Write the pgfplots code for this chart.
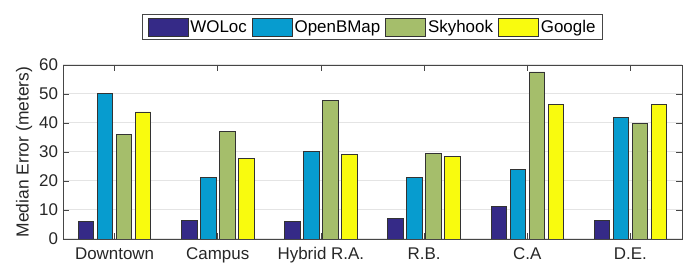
\documentclass[border=0pt]{standalone}
\usepackage{pgfplots}
\pgfplotsset{compat=1.18}
\usepackage{fontspec}
\setmainfont{Liberation Sans}
\usetikzlibrary{calc}
\definecolor{cWOLoc}{RGB}{53,42,135}
\definecolor{cOpen}{RGB}{7,156,207}
\definecolor{cSky}{RGB}{165,190,107}
\definecolor{cGoogle}{RGB}{249,251,14}
\definecolor{axgray}{RGB}{70,70,70}
\definecolor{gridgray}{RGB}{228,228,228}
\begin{document}
\begin{tikzpicture}
\begin{axis}[
  name=ax,
  scale only axis,
  width=619bp, height=174bp,
  xmin=-0.5, xmax=5.5,
  ymin=0, ymax=60,
  ytick={0,10,...,60},
  xtick={0,1,2,3,4,5},
  xticklabels={Downtown,Campus,Hybrid R.A.,R.B.,C.A,D.E.},
  ybar=3.5bp, bar width=15.5bp,
  tick align=inside,
  xtick pos=both, ytick pos=both,
  major tick length=6bp,
  axis line style={axgray, line width=0.8pt},
  every tick/.style={axgray, line width=0.8pt},
  ymajorgrids,
  major grid style={gridgray, line width=1pt},
  /pgf/number format/assume math mode=true,
  tick label style={font=\fontsize{17}{19}\selectfont, text=black!85},
  xticklabel style={yshift=-5bp},
  yticklabel style={xshift=-1.5bp},
  ylabel={Median Error (meters)},
  ylabel style={font=\fontsize{17.5}{19}\selectfont, text=black!85},
  every axis plot/.append style={draw=black!80, line width=0.8pt},
  legend columns=4,
  legend style={
    at={(0.5,1.144)}, anchor=south,
    draw=axgray, line width=0.8pt,
    font=\fontsize{17}{19}\selectfont,
    inner xsep=5bp, inner ysep=3bp,
    /tikz/every even column/.append style={column sep=3bp},
    nodes={inner xsep=2bp},
  },
  legend image code/.code={\draw[#1] (0bp,-9bp) rectangle (40bp,9bp);},
]
\addplot[fill=cWOLoc] coordinates {(0,6.0) (1,6.5) (2,6.0) (3,7.1) (4,11.3) (5,6.3)};
\addplot[fill=cOpen] coordinates {(0,50.1) (1,21.2) (2,30.1) (3,21.3) (4,24.0) (5,41.8)};
\addplot[fill=cSky] coordinates {(0,36.2) (1,37.1) (2,47.9) (3,29.4) (4,57.6) (5,39.7)};
\addplot[fill=cGoogle] coordinates {(0,43.8) (1,27.8) (2,29.2) (3,28.4) (4,46.5) (5,46.5)};
\legend{WOLoc,OpenBMap,Skyhook,Google}
\end{axis}
\pgfresetboundingbox
\useasboundingbox ($(ax.south west)+(-63bp,-26bp)$) rectangle ($(ax.north east)+(1bp,65bp)$);
\end{tikzpicture}
\end{document}
